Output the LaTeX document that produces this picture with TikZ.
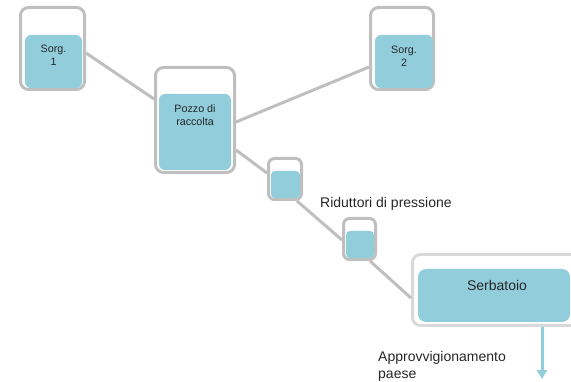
\documentclass[tikz,border=0pt]{standalone}
\usepackage{fontspec}
\setmainfont{Liberation Sans}
\usepackage{tikz}
\usetikzlibrary{arrows.meta,positioning,calc}
\definecolor{watercol}{RGB}{146,205,220}
\definecolor{pipegray}{RGB}{191,191,191}
\definecolor{tankgray}{RGB}{217,217,217}
\definecolor{textcol}{RGB}{38,38,38}
\tikzset{
  pipe box/.style={draw=pipegray,fill=white,line width=3pt,rounded corners=8pt,inner sep=0pt},
  pipe fill/.style={fill=watercol,rounded corners=6pt,inner sep=0pt},
  pipe line/.style={draw=pipegray,line width=3pt},
  small label/.style={font=\fontsize{10.7}{13}\selectfont,text=textcol,align=center,inner sep=0pt},
  big label/.style={font=\fontsize{14}{17}\selectfont,text=textcol,inner sep=0pt},
  supply arrow/.style={draw=watercol,line width=3pt,-{Triangle[width=10pt,length=9pt]}}
}
\begin{document}
\begin{tikzpicture}[x=1pt,y=-1pt]
  \useasboundingbox (0,0) rectangle (571,382);
  % sorgenti e pozzo
  \node[pipe box,minimum width=64pt,minimum height=82pt] (sorgA) at (52.5,48.5) {};
  \node[pipe fill,minimum width=57pt,minimum height=53pt] (sorgAin) at (53.5,61.5) {};
  \node[small label] (sorgAtxt) at ([yshift=6pt]sorgAin.center) {Sorg.\\1};
  \node[pipe box,minimum width=63pt,minimum height=82pt] (sorgB) at (402,48.5) {};
  \node[pipe fill,minimum width=58pt,minimum height=53pt] (sorgBin) at (404,61.5) {};
  \node[small label] (sorgBtxt) at ([yshift=5.5pt]sorgBin.center) {Sorg.\\2};
  \node[pipe box,minimum width=79pt,minimum height=105pt] (pozzo) at (195,120) {};
  \node[pipe fill,minimum width=72pt,minimum height=76pt] (pozzoin) at (195,132) {};
  \node[small label,font=\fontsize{10.7}{12.5}\selectfont] (pozzotxt) at ([yshift=17pt]pozzoin.center) {Pozzo di\\raccolta};
  % riduttori
  \node[pipe box,minimum width=33pt,minimum height=41pt,rounded corners=6pt] (ridA) at (285,179) {};
  \node[pipe fill,minimum width=29pt,minimum height=27pt,rounded corners=4pt] (ridAin) at (285.5,184.5) {};
  \node[pipe box,minimum width=32pt,minimum height=41pt,rounded corners=6pt] (ridB) at (359.5,239) {};
  \node[pipe fill,minimum width=28pt,minimum height=27pt,rounded corners=4pt] (ridBin) at (360,244.5) {};
  \node[big label,anchor=west] (ridtxt) at (320,203.5) {Riduttori di pressione};
  % serbatoio
  \node[pipe box,draw=tankgray,minimum width=175pt,minimum height=71pt] (serb) at (500,290) {};
  \node[pipe fill,rounded corners=8pt,minimum width=152pt,minimum height=53pt] (serbin) at (494,295.5) {};
  \node[big label] (serbtxt) at ([xshift=3pt,yshift=10.5pt]serbin.center) {Serbatoio};
  \coordinate (supply) at (542,379);
  \node[big label,anchor=west,align=left] (supplytxt) at (378,366.5) {Approvvigionamento\\paese};
  % tubazioni
  \draw[pipe line] ([yshift=-4.5pt]sorgA.east) -- ([yshift=21pt]pozzo.west);
  \draw[pipe line] ([yshift=-18.5pt]sorgB.west) -- ([yshift=-2pt]pozzo.east);
  \draw[pipe line] ([yshift=-30pt]pozzo.east) -- ([yshift=6pt]ridA.west);
  \draw[pipe line] ([xshift=12pt]ridA.south) -- ([yshift=-1pt]ridB.west);
  \draw[pipe line] ([xshift=10.5pt]ridB.south) -- ([yshift=-8pt]serb.west);
  \draw[supply arrow] (supply |- serb.south) -- (supply);
\end{tikzpicture}
\end{document}
